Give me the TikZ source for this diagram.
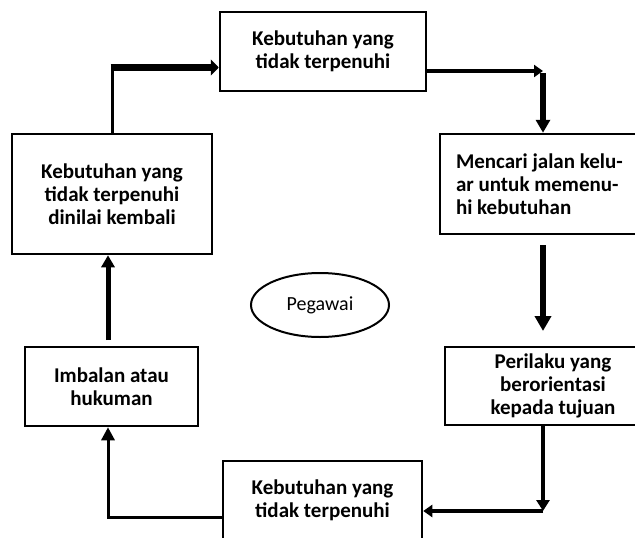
\documentclass[tikz,border=0pt]{standalone}
\usepackage{fontspec}
\setmainfont{Carlito}
\usetikzlibrary{arrows.meta,shapes.geometric}
\begin{document}
\begin{tikzpicture}[x=1pt,y=-1pt,
  box/.style={draw, line width=2.5pt, align=center, inner sep=0pt,
    font=\bfseries\fontsize{21}{23}\selectfont},
  thinline/.style={line width=3pt},
  midline/.style={line width=4pt},
  thickline/.style={line width=6.5pt},
  bighead/.style={-{Triangle[length=13pt,width=14pt]}},
  smallhead/.style={-{Triangle[length=9pt,width=12pt]}},
  widehead/.style={-{Triangle[length=8pt,width=16pt]}}
]
\useasboundingbox (0,0) rectangle (635,538);
\clip (0,0) rectangle (635,538);

% boxes
\node[box, minimum width=206pt, minimum height=79pt] (top) at (323,51.5)
  {\fontsize{21}{22}\selectfont Kebutuhan yang\\ tidak terpenuhi};
\node[box, minimum width=200pt, minimum height=120pt] (left) at (112,194)
  {\fontsize{21}{24.5}\selectfont Kebutuhan yang\\tidak terpenuhi\\dinilai kembali};
\node[box, minimum width=212pt, minimum height=100pt, text width=180pt,
  inner xsep=16pt, align=flush left] (mencari) at (546,184)
  {Mencari jalan kelu-\\ar untuk memenu-\\hi kebutuhan};
\node[box, minimum width=216pt, minimum height=78pt] (perilaku) at (553,386)
  {\fontsize{21}{22.5}\selectfont Perilaku yang\\berorientasi\\kepada tujuan};
\node[box, minimum width=173pt, minimum height=79pt] (imbalan) at (111.5,386.5)
  {Imbalan atau\\hukuman};
\node[box, minimum width=199pt, minimum height=79pt] (bottom) at (322.5,500.5)
  {\fontsize{21}{21.5}\selectfont Kebutuhan yang\\tidak terpenuhi};

\node[draw, ellipse, line width=2pt, minimum width=138pt, minimum height=64pt,
  inner sep=0pt, font=\fontsize{20}{22}\selectfont] (pegawai) at (320,305) {Pegawai};

% connectors
\coordinate (c1) at (112,67.5);
\draw[thinline] (left.north) -- (c1);
\draw[thickline, widehead] ([xshift=-1.5pt]c1) -- (c1 -| top.west);

\coordinate (c2) at (543,71);
\draw[midline, smallhead] (top.east |- c2) -- (c2);
\draw[thickline, bighead] ([yshift=-2pt]c2) -- (c2 |- mencari.north);

\coordinate (a3s) at (543,245);
\coordinate (a3e) at (543,331);
\draw[thickline, -{Triangle[length=15pt,width=16pt]}] (a3s) -- (a3e);

\coordinate (c4) at (543,511);
\draw[midline, -{Triangle[length=11pt,width=13pt]}] (c4 |- perilaku.south) -- (c4);
\draw[midline, smallhead] (c4) -- (bottom.east |- c4);

\coordinate (c5) at (108,517);
\draw[thinline] (bottom.west |- c5) -- ([xshift=-1.5pt]c5);
\draw[thinline, -{Triangle[length=13pt,width=13pt]}] ([yshift=1.5pt]c5) -- (c5 |- imbalan.south);

\coordinate (a6s) at (108,340);
\draw[line width=5pt, -{Triangle[length=12pt,width=13pt]}] (a6s) -- (a6s |- left.south);
\end{tikzpicture}
\end{document}
